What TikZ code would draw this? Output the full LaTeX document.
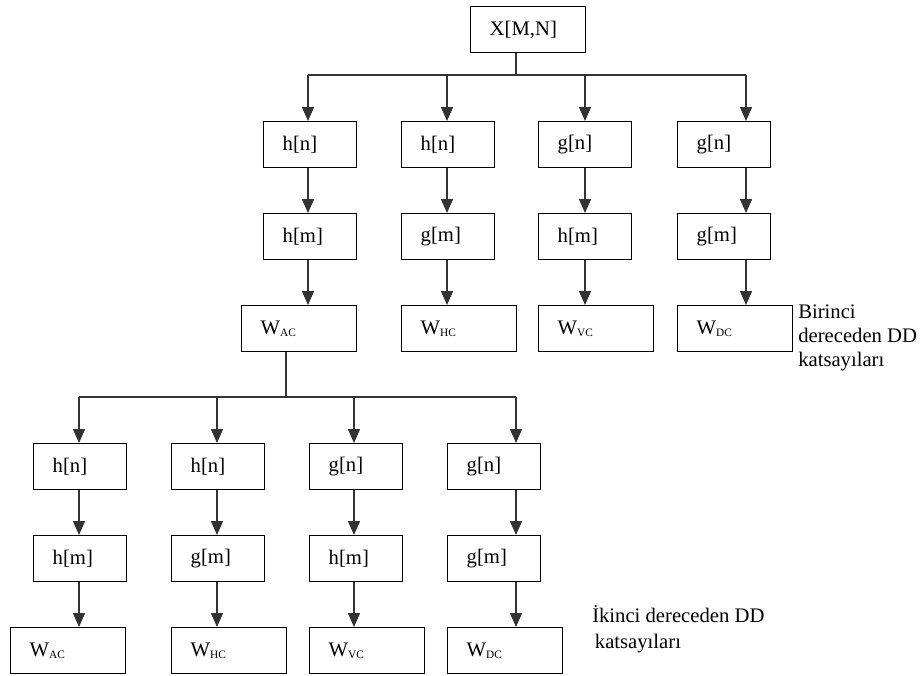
\documentclass[tikz,border=0pt]{standalone}
\usepackage{fontspec}
\setmainfont{Liberation Serif}
\usetikzlibrary{arrows.meta, positioning}

\newcommand{\Wsub}[1]{W\raisebox{-0.2ex}{\fontsize{8.5}{9}\selectfont #1}}

\begin{document}
\begin{tikzpicture}[x=0.75pt, y=-0.75pt,
  kutu/.style={draw, line width=1.1pt, anchor=north west, minimum height=34.5pt,
    inner xsep=14.25pt, text width=41.25pt, align=left, font=\fontsize{15.5}{18}\selectfont},
  genis/.style={kutu, text width=57.75pt},
  ok/.style={-{Triangle[length=10.5pt, width=9pt]}, line width=1.1pt, black!80},
  hat/.style={line width=1.1pt, black!80},
  yazi/.style={anchor=north west, inner sep=0pt, align=left}
]
  \useasboundingbox (0,0) rectangle (924,675);

  % Giris goruntusu
  \node[genis] (x) at (470,6) {X[M,N]};

  % Birinci seviye (satir ve sutun filtreleri)
  \node[kutu]  (b1n) at (263,121) {h[n]};
  \node[kutu]  (b1m) at (263,213) {h[m]};
  \node[genis] (b1w) at (241,305) {\Wsub{AC}};
  \node[kutu]  (b2n) at (401,121) {h[n]};
  \node[kutu]  (b2m) at (401,213) {g[m]};
  \node[genis] (b2w) at (401,305) {\Wsub{HC}};
  \node[kutu]  (b3n) at (538,121) {g[n]};
  \node[kutu]  (b3m) at (538,213) {h[m]};
  \node[genis] (b3w) at (538,305) {\Wsub{VC}};
  \node[kutu]  (b4n) at (677,121) {g[n]};
  \node[kutu]  (b4m) at (677,213) {g[m]};
  \node[genis] (b4w) at (677,305) {\Wsub{DC}};

  % Ikinci seviye (W_AC tekrar ayrilir)
  \node[kutu]  (i1n) at (33,443)  {h[n]};
  \node[kutu]  (i1m) at (33,535)  {h[m]};
  \node[genis] (i1w) at (10,627)  {\Wsub{AC}};
  \node[kutu]  (i2n) at (171,443) {h[n]};
  \node[kutu]  (i2m) at (171,535) {g[m]};
  \node[genis] (i2w) at (171,627) {\Wsub{HC}};
  \node[kutu]  (i3n) at (309,443) {g[n]};
  \node[kutu]  (i3m) at (309,535) {h[m]};
  \node[genis] (i3w) at (309,627) {\Wsub{VC}};
  \node[kutu]  (i4n) at (447,443) {g[n]};
  \node[kutu]  (i4m) at (447,535) {g[m]};
  \node[genis] (i4w) at (447,627) {\Wsub{DC}};

  % Birinci seviye baglantilari
  \coordinate (k0) at (516,75);
  \coordinate (k1) at (308,75);
  \coordinate (k2) at (447,75);
  \coordinate (k3) at (585,75);
  \coordinate (k4) at (746,75);
  \draw[hat] (x.south -| k0) -- (k0);
  \draw[hat] (k1) -- (k4);
  \foreach \i in {1,...,4} {
    \draw[ok] (k\i) -- (b\i n.north -| k\i);
    \draw[ok] (b\i n.south -| k\i) -- (b\i m.north -| k\i);
    \draw[ok] (b\i m.south -| k\i) -- (b\i w.north -| k\i);
  }

  % Ikinci seviye baglantilari
  \coordinate (l0) at (286,397);
  \coordinate (l1) at (79,397);
  \coordinate (l2) at (217,397);
  \coordinate (l3) at (354,397);
  \coordinate (l4) at (516,397);
  \draw[hat] (b1w.south -| l0) -- (l0);
  \draw[hat] (l1) -- (l4);
  \foreach \i in {1,...,4} {
    \draw[ok] (l\i) -- (i\i n.north -| l\i);
    \draw[ok] (i\i n.south -| l\i) -- (i\i m.north -| l\i);
    \draw[ok] (i\i m.south -| l\i) -- (i\i w.north -| l\i);
  }

  % Aciklamalar
  \node[yazi, font=\fontsize{15.5}{18}\selectfont] (bir) at (798,305)
    {Birinci\\dereceden DD\\katsayıları};
  \node[yazi, font=\fontsize{15.5}{19.5}\selectfont] (iki) at (592,605)
    {İkinci dereceden DD\\\hspace*{2pt}katsayıları};
\end{tikzpicture}
\end{document}
